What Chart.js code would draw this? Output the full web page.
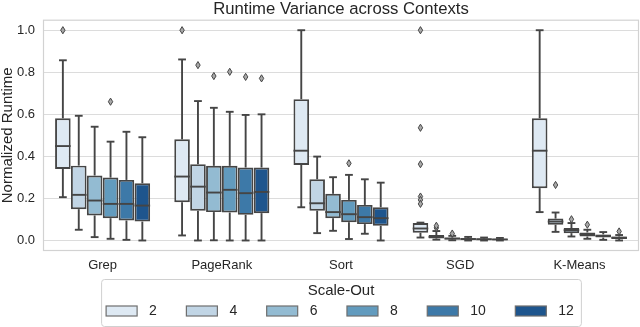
<!DOCTYPE html>
<html><head><meta charset="utf-8">
<script src="https://cdn.jsdelivr.net/npm/chart.js@4"></script>
<style>html,body{margin:0;padding:0;background:#fff}#wrap{width:640px;height:327px}</style>
</head><body><div id="wrap"><canvas id="c" width="640" height="327"></canvas></div>
<script>
const categories = ['Grep', 'PageRank', 'Sort', 'SGD', 'K-Means'];
const scaleOuts = ['2', '4', '6', '8', '10', '12'];
const palette = ['#dee9f3', '#c1d5e5', '#93bbd2', '#629bbe', '#3d79a8', '#1e558d'];
const yTicks = [0, 0.2, 0.4, 0.6, 0.8, 1.0];

// rows: scale-out (2..12); columns: categories (Grep, PageRank, Sort, SGD, K-Means)
const whiskerLow = [
  [0.206, 0.024, 0.158, 0.014, 0.135],
  [0.051, 0.000, 0.035, 0.004, 0.041],
  [0.016, 0.001, 0.046, 0.001, 0.019],
  [0.008, 0.000, 0.007, 0.000, 0.008],
  [0.003, 0.000, 0.032, 0.000, 0.003],
  [0.000, 0.000, 0.000, 0.000, 0.000]
];
const q1 = [
  [0.340, 0.182, 0.359, 0.037, 0.249],
  [0.149, 0.142, 0.142, 0.010, 0.075],
  [0.119, 0.135, 0.106, 0.005, 0.035],
  [0.106, 0.133, 0.087, 0.004, 0.019],
  [0.095, 0.122, 0.078, 0.003, 0.014],
  [0.090, 0.130, 0.070, 0.002, 0.007]
];
const medians = [
  [0.449, 0.304, 0.427, 0.057, 0.427],
  [0.217, 0.256, 0.177, 0.017, 0.090],
  [0.190, 0.228, 0.135, 0.009, 0.049],
  [0.174, 0.241, 0.125, 0.007, 0.030],
  [0.174, 0.225, 0.111, 0.006, 0.022],
  [0.166, 0.231, 0.106, 0.005, 0.013]
];
const q3 = [
  [0.581, 0.481, 0.672, 0.083, 0.581],
  [0.356, 0.363, 0.291, 0.026, 0.104],
  [0.309, 0.355, 0.222, 0.014, 0.059],
  [0.299, 0.355, 0.193, 0.011, 0.038],
  [0.288, 0.347, 0.169, 0.009, 0.029],
  [0.272, 0.347, 0.158, 0.008, 0.019]
];
const whiskerHigh = [
  [0.857, 0.861, 1.000, 0.085, 1.000],
  [0.593, 0.663, 0.399, 0.045, 0.133],
  [0.541, 0.631, 0.301, 0.022, 0.083],
  [0.470, 0.612, 0.312, 0.017, 0.051],
  [0.517, 0.597, 0.291, 0.014, 0.040],
  [0.491, 0.600, 0.275, 0.012, 0.026]
];
const outliers = [
  [[1.0], [1.0], [], [1.0, 0.536, 0.363, 0.209, 0.193, 0.174], []],
  [[], [0.834], [], [0.060, 0.070], [0.264]],
  [[], [0.782], [], [0.033], [0.101]],
  [[0.660], [0.802], [0.367], [], [0.075]],
  [[], [0.778], [], [], []],
  [[], [0.771], [], [], [0.043]]
];

const EDGE = '#454545';
const FONT = "'Liberation Sans', Arial, sans-serif";
const TEXT = '#262626';

const boxPlugin = {
  id: 'boxExtras',
  afterDatasetsDraw(chart) {
    const ctx = chart.ctx;
    const ys = chart.scales.y;
    const ln = (x1, y1, x2, y2) => { ctx.beginPath(); ctx.moveTo(x1, y1); ctx.lineTo(x2, y2); ctx.stroke(); };
    chart.data.datasets.forEach((ds, h) => {
      const meta = chart.getDatasetMeta(h);
      meta.data.forEach((bar, c) => {
        const x = bar.x, w = bar.width;
        const pHi = ys.getPixelForValue(whiskerHigh[h][c]);
        const pLo = ys.getPixelForValue(whiskerLow[h][c]);
        const pQ1 = ys.getPixelForValue(q1[h][c]);
        const pQ3 = ys.getPixelForValue(q3[h][c]);
        const pMed = ys.getPixelForValue(medians[h][c]);
        ctx.save();
        ctx.strokeStyle = EDGE;
        ctx.lineWidth = 1.9;
        ln(x, pQ3, x, pHi);
        ln(x, pQ1, x, pLo);
        ln(x - w / 4, pHi, x + w / 4, pHi);
        ln(x - w / 4, pLo, x + w / 4, pLo);
        ln(x - w / 2, pMed, x + w / 2, pMed);
        ctx.lineWidth = 1;
        outliers[h][c].forEach(v => {
          const py = ys.getPixelForValue(v);
          ctx.beginPath();
          ctx.moveTo(x, py - 3.6);
          ctx.lineTo(x + 2.2, py);
          ctx.lineTo(x, py + 3.6);
          ctx.lineTo(x - 2.2, py);
          ctx.closePath();
          ctx.fillStyle = '#a8a8a8';
          ctx.fill();
          ctx.strokeStyle = EDGE;
          ctx.stroke();
        });
        ctx.restore();
      });
    });
  }
};

const framePlugin = {
  id: 'frame',
  beforeDatasetsDraw(chart) {
    const {ctx, chartArea: a} = chart;
    ctx.save();
    ctx.strokeStyle = '#d2d2d2';
    ctx.lineWidth = 1.2;
    ctx.strokeRect(a.left + 0.5, a.top + 0.5, a.right - a.left - 1, a.bottom - a.top - 1);
    ctx.restore();
  }
};

const legendPlugin = {
  id: 'boxLegend',
  afterDraw(chart) {
    const {ctx, chartArea: a} = chart;
    ctx.save();
    ctx.font = '14px ' + FONT;
    const sw = 31, sh = 10, gapText = 12, gapItem = 29.5, padL = 5, padR = 7;
    const widths = scaleOuts.map(s => ctx.measureText(s).width);
    let total = padL + padR + gapItem * (scaleOuts.length - 1);
    widths.forEach(tw => { total += sw + gapText + tw; });
    const cx = (a.left + a.right) / 2;
    const left = cx - total / 2;
    const top = a.bottom + 28;
    const height = 47;
    ctx.beginPath();
    if (ctx.roundRect) ctx.roundRect(left + 0.5, top + 0.5, total, height, 3);
    else ctx.rect(left + 0.5, top + 0.5, total, height);
    ctx.fillStyle = '#ffffff';
    ctx.fill();
    ctx.strokeStyle = '#d0d0d0';
    ctx.lineWidth = 1;
    ctx.stroke();
    ctx.fillStyle = TEXT;
    ctx.font = '15px ' + FONT;
    ctx.textAlign = 'center';
    ctx.textBaseline = 'middle';
    ctx.fillText('Scale-Out', left + total / 2, top + 11.5);
    ctx.font = '14px ' + FONT;
    ctx.textAlign = 'left';
    let x = left + padL;
    const yc = top + 32;
    scaleOuts.forEach((s, i) => {
      ctx.fillStyle = palette[i];
      ctx.fillRect(x, yc - sh / 2, sw, sh);
      ctx.strokeStyle = '#6e6e6e';
      ctx.lineWidth = 1.2;
      ctx.strokeRect(x, yc - sh / 2, sw, sh);
      ctx.fillStyle = TEXT;
      ctx.fillText(s, x + sw + gapText, yc + 0.5);
      x += sw + gapText + widths[i] + gapItem;
    });
    ctx.restore();
  }
};

const datasets = scaleOuts.map((s, h) => ({
  label: s,
  data: categories.map((c, i) => [q1[h][i], q3[h][i]]),
  backgroundColor: palette[h],
  borderColor: EDGE,
  borderWidth: 1.9,
  borderSkipped: false,
  categoryPercentage: 0.8,
  barPercentage: 0.98
}));

new Chart(document.getElementById('c'), {
  type: 'bar',
  data: { labels: categories, datasets },
  plugins: [framePlugin, boxPlugin, legendPlugin],
  options: {
    responsive: false,
    animation: false,
    devicePixelRatio: 1,
    layout: { padding: { top: 0, left: 0, right: 1, bottom: 48 } },
    plugins: {
      legend: { display: false },
      tooltip: { enabled: false },
      title: {
        display: true,
        text: 'Runtime Variance across Contexts',
        fullSize: false,
        color: TEXT,
        font: { family: FONT, size: 16.7, weight: 'normal', lineHeight: 1 },
        padding: { top: 1, bottom: 2 }
      }
    },
    scales: {
      x: {
        grid: { display: false, drawTicks: false },
        border: { display: false },
        ticks: { color: TEXT, font: { family: FONT, size: 13 }, padding: 7 },
        afterFit(s) { s.height = 28; }
      },
      y: {
        min: -0.05,
        max: 1.05,
        afterBuildTicks(s) { s.ticks = yTicks.map(v => ({ value: v })); },
        grid: { color: '#dcdcdc', lineWidth: 1, drawTicks: false },
        border: { display: false },
        ticks: {
          color: TEXT,
          font: { family: FONT, size: 13 },
          padding: 8,
          callback: v => Number(v).toFixed(1)
        },
        title: {
          display: true,
          text: 'Normalized Runtime',
          color: TEXT,
          font: { family: FONT, size: 15, lineHeight: 1 },
          padding: { top: 0, bottom: 0 }
        },
        afterFit(s) { s.width = 43; }
      }
    }
  }
});
</script>
</body></html>
